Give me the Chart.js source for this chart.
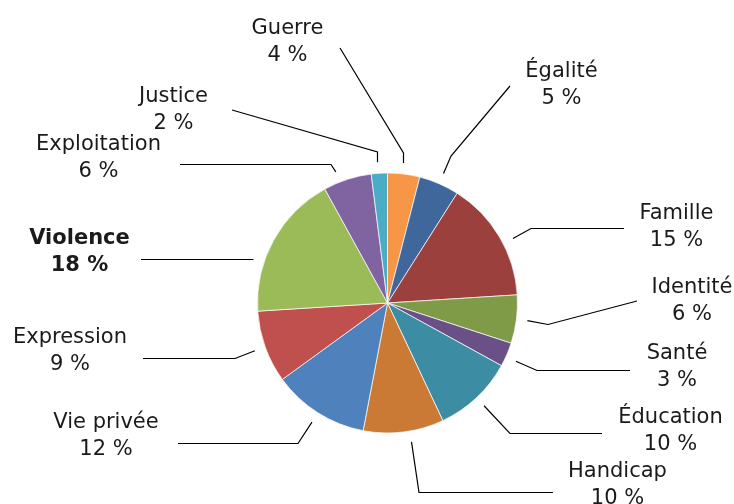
<!DOCTYPE html>
<html lang="fr">
<head>
    <meta charset="UTF-8">
    <title>Répartition des thèmes</title>
    <script src="https://cdn.jsdelivr.net/npm/chart.js"></script>
    <style>
        html, body {
            margin: 0;
            padding: 0;
            background: #ffffff;
        }
        .chart-container {
            position: relative;
            width: 734px;
            height: 504px;
        }
    </style>
</head>
<body>
    <div class="chart-container">
        <canvas id="pieChart"></canvas>
    </div>

    <script>
        // Thèmes, dans l'ordre des aiguilles d'une montre depuis midi
        const themes = ["Guerre", "Égalité", "Famille", "Identité", "Santé", "Éducation",
                        "Handicap", "Vie privée", "Expression", "Violence", "Exploitation", "Justice"];
        const percents = [4, 5, 15, 6, 3, 10, 10, 12, 9, 18, 6, 2];
        const sliceColors = ["#F79646", "#3F679C", "#9C403D", "#7F9B48", "#6A5087", "#3C8DA3",
                             "#CB7A36", "#4F81BD", "#C0504D", "#9BBB59", "#8064A2", "#4BACC6"];
        const boldThemes = ["Violence"];

        // placement des étiquettes: [x texte, ligne de base, coude x, coude y, fin x, fin y, décalage angle (deg)]
        const labelLayout = [
            [287.5, 34, 403.5, 153, 340, 48, 0],
            [561.5, 77, 451, 156, 510, 86, 0],
            [676.5, 219, 531, 228.5, 624, 228.5, 3.4],
            [692, 293, 548, 324.5, 637, 301, 0],
            [677, 359, 537, 370.5, 630, 370.5, 1],
            [670.5, 423, 510, 433.5, 602, 433.5, 0],
            [617.5, 477, 419, 492.5, 553, 492.5, -2.6],
            [106, 428, 298, 443.5, 178, 443.5, 0],
            [70, 343, 235, 358.5, 143, 358.5, 0],
            [79.5, 244, null, null, 141, 259.5, -10.7],
            [98.5, 150, 331, 164.5, 180, 164.5, -3.5],
            [173.5, 102, 377.5, 152, 232, 110, 0]
        ];

        const leaderLabels = {
            id: "leaderLabels",
            afterDraw(chart) {
                const ctx = chart.ctx;
                const arcs = chart.getDatasetMeta(0).data;
                ctx.save();
                ctx.strokeStyle = "#000000";
                ctx.lineWidth = 1.2;
                arcs.forEach((arc, i) => {
                    const lay = labelLayout[i];
                    const mid = (arc.startAngle + arc.endAngle) / 2 + lay[6] * Math.PI / 180;
                    const r = arc.outerRadius + 11;
                    let sx = arc.x + Math.cos(mid) * r;
                    let sy = arc.y + Math.sin(mid) * r;
                    // garder les traits verticaux/horizontaux bien nets
                    if (lay[2] !== null && Math.abs(sx - lay[2]) < 2) sx = lay[2];
                    if (lay[2] === null) sy = lay[5];
                    ctx.beginPath();
                    ctx.moveTo(sx, sy);
                    if (lay[2] !== null) ctx.lineTo(lay[2], lay[3]);
                    ctx.lineTo(lay[4], lay[5]);
                    ctx.stroke();

                    const bold = boldThemes.includes(themes[i]);
                    ctx.fillStyle = "#1a1a1a";
                    ctx.textAlign = "center";
                    ctx.textBaseline = "alphabetic";
                    ctx.font = (bold ? "bold " : "") + "21px 'DejaVu Sans'";
                    ctx.fillText(themes[i], lay[0], lay[1]);
                    ctx.fillText(percents[i] + " %", lay[0], lay[1] + 26.5);
                });
                ctx.restore();
            }
        };

        const ctx = document.getElementById("pieChart").getContext("2d");
        new Chart(ctx, {
            type: "pie",
            data: {
                labels: themes,
                datasets: [{
                    data: percents,
                    backgroundColor: sliceColors,
                    borderColor: "rgba(255,255,255,0.7)",
                    borderWidth: 1,
                    radius: 130
                }]
            },
            options: {
                responsive: true,
                maintainAspectRatio: false,
                animation: false,
                events: [],
                layout: { padding: { left: 257, right: 216, top: 173, bottom: 71 } },
                plugins: {
                    legend: { display: false },
                    tooltip: { enabled: false }
                }
            },
            plugins: [leaderLabels]
        });
    </script>
</body>
</html>
